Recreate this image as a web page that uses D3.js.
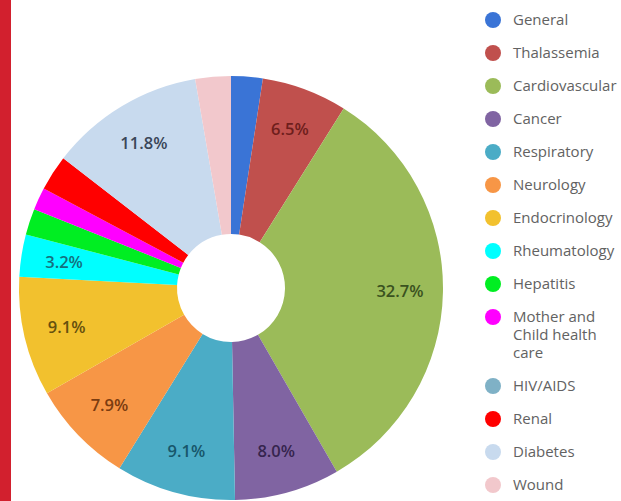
<!DOCTYPE html>
<html>
<head>
<meta charset="utf-8">
<script src="https://cdn.jsdelivr.net/npm/d3@7"></script>
<style>
  html, body { margin: 0; padding: 0; background: #fff; }
  svg { display: block; font-family: "Open Sans", "Noto Sans", sans-serif; }
</style>
</head>
<body>
<div id="chart"></div>
<script>
const categories = ["General", "Thalassemia", "Cardiovascular", "Cancer", "Respiratory", "Neurology",
  "Endocrinology", "Rheumatology", "Hepatitis", "Mother and Child health care", "HIV/AIDS",
  "Renal", "Diabetes", "Wound"];
const shares = [2.4, 6.5, 32.7, 8.0, 9.1, 7.9, 9.1, 3.2, 2.0, 1.7, 0, 2.7, 11.8, 2.7];
const sliceLabels = ["", "6.5%", "32.7%", "8.0%", "9.1%", "7.9%", "9.1%", "3.2%", "", "", "", "", "11.8%", ""];
const legendLines = [["General"], ["Thalassemia"], ["Cardiovascular"], ["Cancer"], ["Respiratory"],
  ["Neurology"], ["Endocrinology"], ["Rheumatology"], ["Hepatitis"], ["Mother and", "Child health", "care"],
  ["HIV/AIDS"], ["Renal"], ["Diabetes"], ["Wound"]];
const colors = ["#3a74d6", "#c0504d", "#9bbb59", "#8064a2", "#4bacc6", "#f79646", "#f2c12e",
  "#00ffff", "#00ee22", "#ff00ff", "#7fb1c6", "#ff0000", "#c8daee", "#f2c8cc"];
const labelColors = ["#1a3a70", "#6e1e1c", "#3a5220", "#36244e", "#17566a", "#7a3c10", "#66500e",
  "#14707e", "#106a10", "#700070", "#2a5060", "#700000", "#3a4658", "#704a4c"];

const W = 621, H = 501;
const cx = 231, cy = 288, rOuter = 212, rInner = 54, rLabel = 169;

const svg = d3.select("#chart").append("svg").attr("width", W).attr("height", H);

const pie = d3.pie().value(d => d).sort(null);
const arc = d3.arc().innerRadius(rInner).outerRadius(rOuter);
const labelArc = d3.arc().innerRadius(rLabel).outerRadius(rLabel);
const arcs = pie(shares);

const g = svg.append("g").attr("transform", `translate(${cx},${cy})`);
g.selectAll("path.slice").data(arcs).join("path")
  .attr("class", "slice")
  .attr("d", arc)
  .attr("fill", (d, i) => colors[i]);

g.selectAll("text.lbl").data(arcs.filter((d, i) => sliceLabels[i]))
  .join("text")
  .attr("class", "lbl")
  .attr("transform", d => `translate(${labelArc.centroid(d)})`)
  .attr("text-anchor", "middle")
  .attr("dy", "0.35em")
  .style("font-size", "16.5px")
  .style("font-weight", 600)
  .attr("fill", d => labelColors[d.index])
  .text(d => sliceLabels[d.index]);

// red bar on the left edge
svg.append("rect").attr("x", 0).attr("y", 0).attr("width", 11).attr("height", H).attr("fill", "#d2202e");

// legend
const legend = svg.append("g");
let ly = 20;
legendLines.forEach((lines, i) => {
  const row = legend.append("g").attr("transform", `translate(0,${ly})`);
  row.append("circle").attr("cx", 493).attr("cy", 0).attr("r", 8).attr("fill", colors[i]);
  const t = row.append("text").attr("x", 513).attr("y", 5)
    .style("font-size", "15px").attr("fill", "#626262");
  lines.forEach((s, k) => t.append("tspan").attr("x", 513).attr("dy", k ? 18 : 0).text(s));
  ly += 33 + (lines.length - 1) * 18;
});
</script>
</body>
</html>
